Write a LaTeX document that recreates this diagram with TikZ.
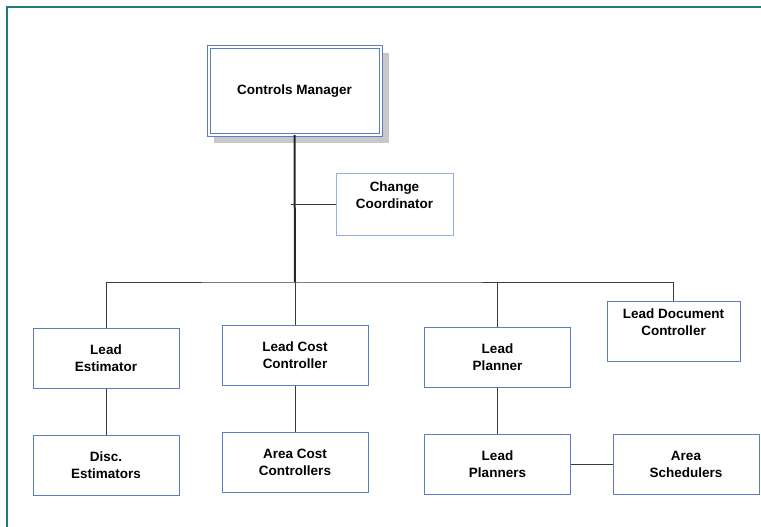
\documentclass[tikz,border=0pt]{standalone}
\usepackage{fontspec}
\setmainfont{Liberation Sans}
\usepackage{xcolor}
\usepackage{tikz}
\usetikzlibrary{positioning,backgrounds}
\definecolor{oblue}{HTML}{5A7EC4}
\definecolor{olight}{HTML}{8FB2E6}
\definecolor{oline}{HTML}{3A3A3A}
\definecolor{oframe}{HTML}{1E7B7B}
\definecolor{oshade}{HTML}{C8C8C8}

\begin{document}
\begin{tikzpicture}[x=1pt,y=-1pt,
    font=\fontsize{13.5}{17}\selectfont\bfseries,
    role/.style={draw=oblue,line width=1pt,fill=white,align=center,
      minimum width=146pt,minimum height=60pt,inner sep=2pt},
    link/.style={draw=oline,line width=0.9pt}]
  \useasboundingbox (0,0) rectangle (761,527);
  % page edge
  \draw[oframe,line width=1.2pt] (7,527) -- (7,7) -- (761,7);

  % top of the tree
  \node[draw=oblue,double=white,double distance=2pt,line width=1pt,fill=white,
        minimum width=172pt,minimum height=87pt]
        (mgr) at (294.5,91) {Controls Manager};
  \begin{scope}[on background layer]
    \fill[oshade] ([xshift=6pt,yshift=-7.5pt]mgr.south west)
      rectangle ([xshift=7.5pt,yshift=-6pt]mgr.north east);
  \end{scope}
  \node[role,draw=olight,minimum width=117pt,minimum height=62pt]
        (cc) at (394.5,204) {Change\\Coordinator\\\mbox{}};

  % leads
  \node[role] (le)  at (106,358)   {Lead\\Estimator};
  \node[role] (lcc) at (295,355)   {Lead Cost\\Controller};
  \node[role] (lp)  at (497.5,357) {Lead\\Planner};
  \node[role,minimum width=133pt] (ldc) at (673.5,331) {Lead Document\\Controller\\\mbox{}};

  % staff
  \node[role] (de)  at (106,465)   {Disc.\\Estimators};
  \node[role] (acc) at (295,462)   {Area Cost\\Controllers};
  \node[role] (lps) at (497.5,464) {Lead\\Planners};
  \node[role] (as)  at (686,464)   {Area\\Schedulers};

  \coordinate (bus) at (295,282);
  \draw[line width=2pt,black!85] (mgr.south) -- (bus);
  \draw[link] (cc.west) -- ++(-45,0);
  \draw[link] (le.north) |- (bus) -| (ldc.north);
  \draw[link] (lcc.north) -- (lcc.north |- bus);
  \draw[link] (lp.north) -- (lp.north |- bus);
  \draw[link] (le.south) -- (de.north);
  \draw[link] (lcc.south) -- (acc.north);
  \draw[link] (lp.south) -- (lps.north);
  \draw[link] (lps.east) -- (as.west);
\end{tikzpicture}
\end{document}
